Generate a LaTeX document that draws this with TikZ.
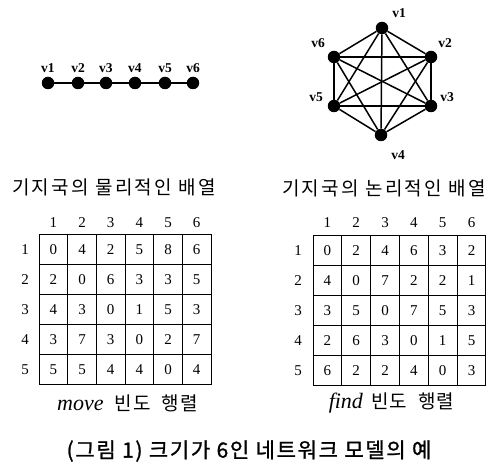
\documentclass[tikz,border=0pt]{standalone}
\usepackage{fontspec}
\setmainfont{Liberation Serif}
\newfontfamily\kr[LetterSpace=12]{Noto Sans CJK KR}
\newfontfamily\krs[LetterSpace=6]{Noto Sans CJK KR}
\newfontfamily\krf[LetterSpace=8,FakeBold=1.2]{Noto Sans CJK KR}
\begin{document}
\begin{tikzpicture}[x=1pt,y=-1pt,
  dot/.style={circle,fill=black,inner sep=0pt,minimum size=12.5pt},
  vlab/.style={font=\fontsize{13.5}{13.5}\selectfont\bfseries,inner sep=0pt},
  edge/.style={line width=1.5pt},
  cellA/.style={draw,line width=1pt,minimum width=28.67pt,minimum height=30pt,inner sep=0pt,outer sep=0pt,font=\fontsize{15}{15}\selectfont},
  cellB/.style={cellA,minimum width=28.83pt},
  hdr/.style={inner sep=0pt,font=\fontsize{15}{15}\selectfont},
  captxt/.style={inner sep=0pt,font=\kr\fontsize{19}{19}\selectfont},
  subcap/.style={inner sep=0pt,font=\fontsize{22}{22}\selectfont},
  figcaptxt/.style={inner sep=0pt,font=\krf\fontsize{21}{21}\selectfont}]
\useasboundingbox (0,0) rectangle (491,465);
% physical chain
\foreach \i/\x in {1/48,2/78,3/106,4/135,5/165,6/193}{
  \node[dot] (c\i) at (\x,83) {};
  \node[vlab] (lc\i) at (\x,68) {v\i};
}
\draw[edge] (c1)--(c2) (c2)--(c3) (c3)--(c4) (c4)--(c5) (c5)--(c6);
\node[captxt] (cap1) at (114,187) {기지국의 물리적인 배열};
% logical hexagon
\node[dot] (h1) at (382,28) {};
\node[dot] (h2) at (431,57) {};
\node[dot] (h3) at (431,106) {};
\node[dot] (h4) at (381,135) {};
\node[dot] (h5) at (334,106) {};
\node[dot] (h6) at (334,57) {};
\node[vlab] (lh1) at (399,13) {v1};
\node[vlab] (lh2) at (445,43) {v2};
\node[vlab] (lh3) at (447,97) {v3};
\node[vlab] (lh4) at (398,155) {v4};
\node[vlab] (lh5) at (316,97) {v5};
\node[vlab] (lh6) at (318,43) {v6};
\foreach \a/\b in {1/2,1/3,1/4,1/5,1/6,2/3,2/4,2/5,2/6,3/4,3/5,3/6,4/5,4/6,5/6}{
  \draw[edge] (h\a)--(h\b);
}
\node[captxt] (cap2) at (384,188) {기지국의 논리적인 배열};
% move matrix
\foreach \c in {1,...,6}{
  \node[hdr] (mh\c) at ({39+28.67*(\c-0.5)},223) {\c};
}
\foreach \r/\row in {1/{0,4,2,5,8,6},2/{2,0,6,3,3,5},3/{4,3,0,1,5,3},4/{3,7,3,0,2,7},5/{5,5,4,4,0,4}}{
  \node[hdr] (mr\r) at (25,{235+30*(\r-0.5)}) {\r};
  \foreach \v [count=\c] in \row {
    \node[cellA] (m-\r-\c) at ({39+28.67*(\c-0.5)},{235+30*(\r-0.5)}) {\v};
  }
}
\node[subcap] (cap3) at (127.5,403) {\textit{move}\hspace{11pt}{\krs\fontsize{19}{19}\selectfont 빈도\hspace{11pt}행렬}};
% find matrix
\foreach \c in {1,...,6}{
  \node[hdr] (fh\c) at ({313+28.83*(\c-0.5)},223) {\c};
}
\foreach \r/\row in {1/{0,2,4,6,3,2},2/{4,0,7,2,2,1},3/{3,5,0,7,5,3},4/{2,6,3,0,1,5},5/{6,2,2,4,0,3}}{
  \node[hdr] (fr\r) at (298,{236+30*(\r-0.5)}) {\r};
  \foreach \v [count=\c] in \row {
    \node[cellB] (f-\r-\c) at ({313+28.83*(\c-0.5)},{236+30*(\r-0.5)}) {\v};
  }
}
\node[subcap] (cap4) at (391.5,403) {\textit{find}\hspace{8pt}{\krs\fontsize{19}{19}\selectfont 빈도\hspace{11pt}행렬}};
% figure caption
\node[figcaptxt] (figcap) at (249,451) {(그림 1) 크기가 6인 네트워크 모델의 예};
\end{tikzpicture}
\end{document}
